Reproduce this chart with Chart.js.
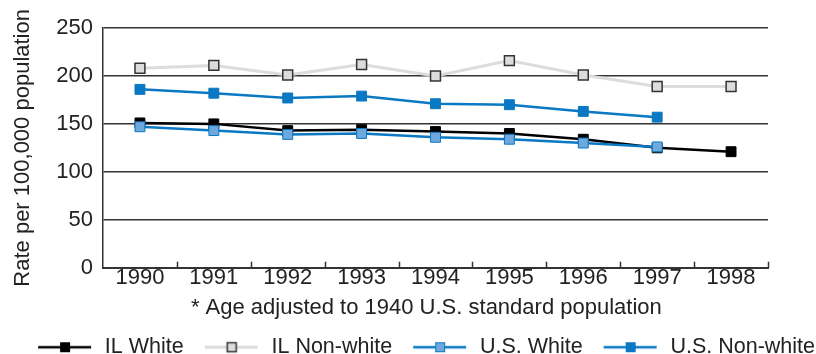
<!DOCTYPE html>
<html><head><meta charset="utf-8">
<script src="https://cdn.jsdelivr.net/npm/chart.js@4/dist/chart.umd.min.js"></script>
<style>html,body{margin:0;padding:0;background:#fff}#wrap{width:816px;height:354px}</style>
</head><body><div id="wrap"><canvas id="c" width="816" height="354"></canvas></div>
<script>
const years = ['1990','1991','1992','1993','1994','1995','1996','1997','1998'];
const ilWhite = [151, 150, 143, 144, 142, 140, 134, 125, 121];
const ilNonWhite = [208, 211, 201, 212, 200, 216, 201, 189, 189];
const usWhite = [147, 143, 139, 140, 136, 134, 130, 126, null];
const usNonWhite = [186, 182, 177, 179, 171, 170, 163, 157, null];
const yTicks = [0, 50, 100, 150, 200, 250];
const seriesNames = ['IL White', 'IL Non-white', 'U.S. White', 'U.S. Non-white'];

const FONT = 'Liberation Sans, Arial, Helvetica, sans-serif';
const styles = [
  {line:'#000000', lw:2.5, fill:'#000000', border:'#000000', bw:1},
  {line:'#dcdcdc', lw:3, fill:'#dcdcdc', border:'#333333', bw:1.5},
  {line:'#0a78c2', lw:2.5, fill:'#6fa8dc', border:'#0a78c2', bw:1},
  {line:'#0a78c2', lw:2.5, fill:'#0a78c2', border:'#0a78c2', bw:1}
];
const GAP = 20; // blank space before each legend icon
function legendIcon(s){
  const c = document.createElement('canvas');
  c.width = GAP + 56; c.height = 14;
  const x = c.getContext('2d');
  x.translate(GAP, 0);
  x.strokeStyle = s.line; x.lineWidth = s.lw;
  x.beginPath(); x.moveTo(0,7); x.lineTo(53,7); x.stroke();
  x.fillStyle = s.fill; x.fillRect(22,2,10,10);
  x.strokeStyle = s.border; x.lineWidth = s.bw; x.strokeRect(22.5,2.5,9,9);
  return c;
}
const icons = styles.map(legendIcon);
const allData = [ilWhite, ilNonWhite, usWhite, usNonWhite];
const orders = [4,3,1,2];
const datasets = allData.map((d,i)=>({
  label: seriesNames[i], data: d, order: orders[i], yAxisID:'y',
  borderColor: styles[i].line, borderWidth: styles[i].lw,
  pointStyle: 'rect', pointRadius: 7, pointHoverRadius: 7,
  pointBackgroundColor: styles[i].fill, pointBorderColor: styles[i].border,
  pointBorderWidth: styles[i].bw, tension: 0, spanGaps: false
}));

const tickMarks = {
  id:'tickMarks',
  afterDraw(chart){
    const xs = chart.scales.x, ca = chart.chartArea, ctx = chart.ctx;
    const n = years.length;
    const step = xs.getPixelForValue(1) - xs.getPixelForValue(0);
    ctx.save(); ctx.strokeStyle = '#333'; ctx.lineWidth = 1.5;
    for (let i=1;i<=n;i++){
      const px = Math.round(xs.getPixelForValue(i) - step/2) + 0.5;
      ctx.beginPath(); ctx.moveTo(px, ca.bottom); ctx.lineTo(px, ca.bottom-6); ctx.stroke();
    }
    ctx.restore();
  }
};

new Chart(document.getElementById('c'), {
  type:'line',
  data:{labels: years, datasets},
  plugins:[tickMarks],
  options:{
    responsive:false, animation:false, devicePixelRatio:1,
    layout:{padding:{left:0, right:0, top:28, bottom:-14}},
    plugins:{
      tooltip:{enabled:false},
      legend:{
        position:'bottom', align:'end',
        labels:{
          usePointStyle:true, pointStyleWidth:GAP+56, padding:1,
          color:'#222', font:{family:FONT, size:21.5},
          generateLabels(chart){
            return chart.data.datasets.map((ds,i)=>({
              text: ds.label, pointStyle: icons[i], datasetIndex:i,
              fillStyle:'#fff', strokeStyle:'#fff', lineWidth:0, fontColor:'#222', hidden:false
            }));
          }
        }
      }
    },
    scales:{
      x:{
        offset:true,
        grid:{display:false, drawTicks:false},
        border:{display:true, color:'#333', width:2},
        ticks:{color:'#222', font:{family:FONT, size:22}, padding:-3, maxRotation:0},
        title:{display:true, text:'* Age adjusted to 1940 U.S. standard population\u00a0\u00a0\u00a0', color:'#222', font:{family:FONT, size:22}, padding:{top:7, bottom:14}}
      },
      y:{
        min:0, max:250,
        afterBuildTicks(scale){ scale.ticks = yTicks.map(v=>({value:v})); },
        afterFit(scale){ scale.width = 103; },
        grid:{color:'#333', lineWidth:1.5, drawTicks:false},
        border:{display:true, color:'#333', width:1.5},
        ticks:{color:'#222', font:{family:FONT, size:22}, padding:10},
        title:{display:true, text:'Rate per 100,000 population', color:'#222', font:{family:FONT, size:22}, padding:{top:10, bottom:8}}
      },
      yR:{
        position:'right', min:0, max:250,
        afterFit(scale){ scale.width = 48; },
        grid:{display:false, drawTicks:false},
        border:{display:false},
        ticks:{display:false}
      }
    }
  }
});
</script></body></html>
